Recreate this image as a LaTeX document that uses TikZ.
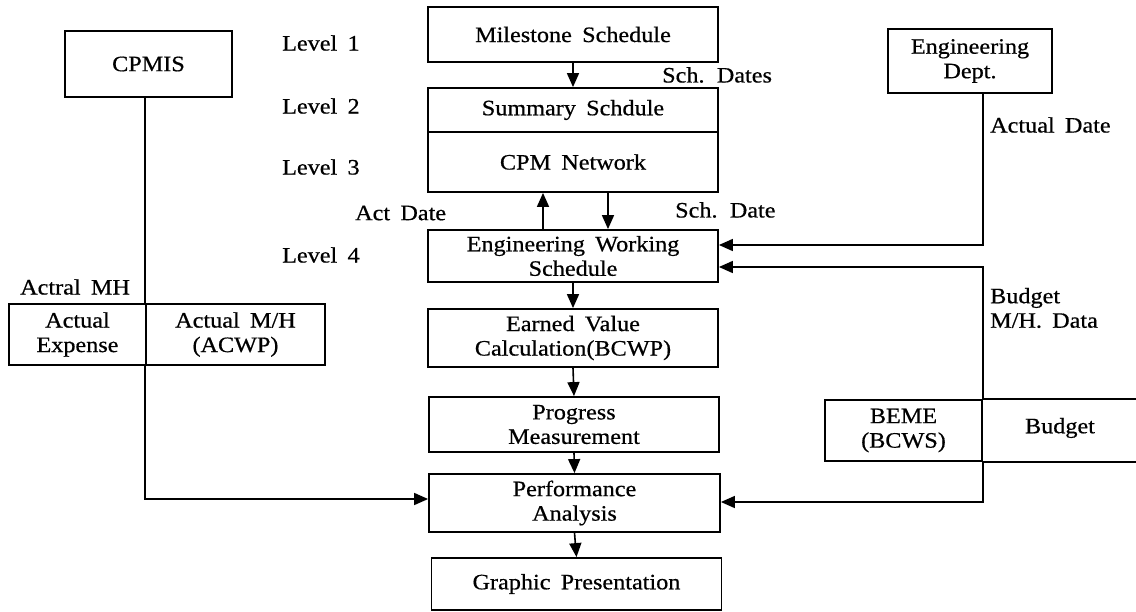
\documentclass[tikz,border=0pt]{standalone}
\usepackage{fontspec}
\setmainfont{Liberation Serif}[FakeStretch=1.1, WordSpace=1.7, FakeBold=0.6]
\usetikzlibrary{arrows.meta,calc}
\begin{document}
\begin{tikzpicture}[x=1pt,y=-1pt,
  every node/.style={font=\fontsize{22}{24.5}\selectfont, inner sep=0pt, align=center},
  box/.style={draw, line width=1.8pt, minimum width=#1},
  box/.default=290pt,
  lbl/.style={anchor=west},
  arr/.style={line width=1.6pt, -{Triangle[length=14pt,width=12pt]}},
  wire/.style={line width=1.6pt}]
\useasboundingbox (0,0) rectangle (1136,611);

% central chain
\node[box, minimum height=55pt] (ms) at (573,34.5) {Milestone Schedule};
\node[box, minimum height=44pt] (sum) at (573,110) {Summary Schdule};
\node[box, minimum height=60pt] (cpm) at (573,162) {CPM Network};
\node[box, minimum height=52pt] (ews) at (573,256) {Engineering Working\\Schedule};
\node[box, minimum height=58pt] (evc) at (573,338) {Earned Value\\Calculation(BCWP)};
\node[box, minimum height=55pt] (pm) at (574,424.5) {Progress\\Measurement};
\node[box=291pt, minimum height=58pt] (pa) at (574.5,503) {Performance\\Analysis};
\node[box, minimum height=52pt] (gp) at (576.5,584) {Graphic Presentation};

% left side
\node[box=167pt, minimum height=66pt] (cpmis) at (148.5,64) {CPMIS};
\node[box=137pt, minimum height=61pt] (aexp) at (77.5,334.5) {Actual\\Expense};
\node[box=179pt, minimum height=61pt] (acwp) at (235.5,334.5) {Actual M/H\\(ACWP)};

% right side
\node[box=164pt, minimum height=64pt] (eng) at (970,61) {Engineering\\Dept.};
\node[box=157pt, minimum height=61pt] (beme) at (903.5,430.5) {BEME\\(BCWS)};
\node (bud) at (1060,428) {Budget};
\draw[line width=1.8pt] (beme.north east) -- ++(160,0);
\draw[line width=1.8pt] (beme.south east) -- ++(160,0);

% level and flow labels
\node[lbl] (lv1) at (282,43) {Level 1};
\node[lbl] (lv2) at (282,106) {Level 2};
\node[lbl] (lv3) at (282,167) {Level 3};
\node[lbl] (lv4) at (282,255) {Level 4};
\node[lbl] (actd) at (355,213) {Act Date};
\node[lbl] (actmh) at (20,287) {Actral MH};
\node[lbl] (schds) at (662,75) {Sch. Dates};
\node[lbl] (schd) at (675,210) {Sch. Date};
\node[lbl] (actdate) at (990,125) {Actual Date};
\node[lbl, align=left] (bmh) at (990,308) {Budget\\M/H. Data};

% connectors of the chain
\draw[arr] (ms.south) -- (sum.north);
\draw[arr] ($(ews.north)+(-30,0)$) -- ($(cpm.south)+(-30,0)$);
\draw[arr] ($(cpm.south)+(35,0)$) -- ($(ews.north)+(35,0)$);
\draw[arr] (ews.south) -- (evc.north);
\draw[arr] (evc.south) -- (pm.north);
\draw[arr] (pm.south) -- (pa.north);
\draw[arr] (pa.south) -- (gp.north);

% CPMIS feed through the actual cost box
\draw[wire] (cpmis.south -| acwp.west) -- (acwp.north west);
\draw[arr] (acwp.south west) |- ($(pa.west)+(0,-4)$);

% engineering and budget feeds
\draw[arr] (eng.south -| beme.east) |- ($(ews.east)+(0,-11)$);
\draw[arr] (beme.north east) |- ($(ews.east)+(0,11)$);
\draw[arr] (beme.south east) |- ($(pa.east)+(0,-1)$);
\end{tikzpicture}
\end{document}
